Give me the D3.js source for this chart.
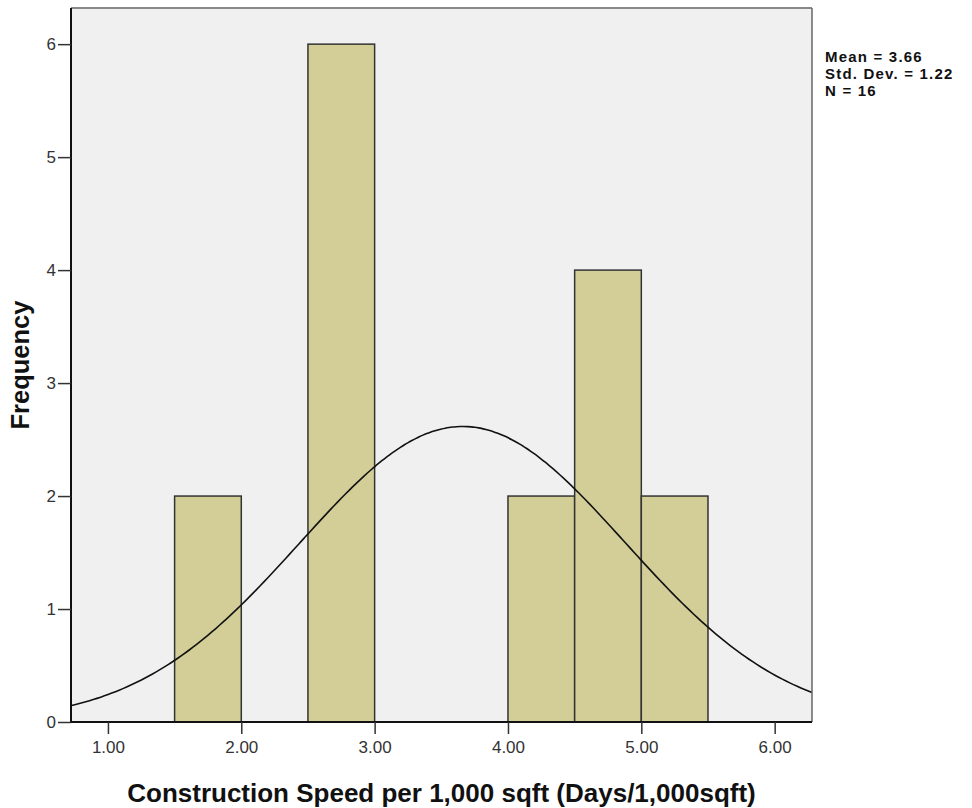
<!DOCTYPE html>
<html>
<head>
<meta charset="utf-8">
<script src="https://cdn.jsdelivr.net/npm/d3@7"></script>
<style>
  body { margin: 0; background: #fff; }
  text { font-family: "Liberation Sans", Arial, sans-serif; }
</style>
</head>
<body>
<div id="chart"></div>
<script>
// histogram bins (lower edge, upper edge) and counts
var binStarts = [1.5, 2.5, 4.0, 4.5, 5.0];
var binEnds = [2.0, 3.0, 4.5, 5.0, 5.5];
var counts = [2, 6, 2, 4, 2];
var xTicks = [1, 2, 3, 4, 5, 6];
var yTicks = [0, 1, 2, 3, 4, 5, 6];
var stats = ["Mean = 3.66", "Std. Dev. = 1.22", "N = 16"];
var mean = 3.66, sd = 1.22, n = 16, binWidth = 0.5;

var W = 972, H = 808;
var margin = {top: 8, right: 160, bottom: 86, left: 71};
var width = W - margin.left - margin.right;
var height = H - margin.top - margin.bottom;

var svg = d3.select("#chart").append("svg")
  .attr("width", W)
  .attr("height", H);

var x = d3.scaleLinear().domain([0.723, 6.28]).range([0, width]);
var y = d3.scaleLinear().domain([0, 6.32]).range([height, 0]);

var g = svg.append("g")
  .attr("transform", "translate(" + margin.left + "," + margin.top + ")");

g.append("rect")
  .attr("width", width)
  .attr("height", height)
  .attr("fill", "#f0f0f0");

var bins = binStarts.map((s, i) => ({x0: s, x1: binEnds[i], n: counts[i]}));

g.selectAll("rect.bar")
  .data(bins)
  .enter().append("rect")
  .attr("class", "bar")
  .attr("x", d => x(d.x0))
  .attr("y", d => y(d.n))
  .attr("width", d => x(d.x1) - x(d.x0))
  .attr("height", d => y(0) - y(d.n))
  .attr("fill", "#d3ce97")
  .attr("stroke", "#333")
  .attr("stroke-width", 1.5);

// fitted normal curve from mean / sd / N
var pts = d3.range(0, 201).map(i => {
  var xv = x.domain()[0] + (x.domain()[1] - x.domain()[0]) * i / 200;
  var z = (xv - mean) / sd;
  return [xv, n * binWidth * Math.exp(-0.5 * z * z) / (sd * Math.sqrt(2 * Math.PI))];
});
g.append("path")
  .datum(pts)
  .attr("fill", "none")
  .attr("stroke", "#111")
  .attr("stroke-width", 1.6)
  .attr("d", d3.line().x(d => x(d[0])).y(d => y(d[1])).curve(d3.curveBasis));

// frame: grey top/right, black left/bottom
g.append("line").attr("x1", 0).attr("x2", width).attr("y1", 0).attr("y2", 0)
  .attr("stroke", "#888").attr("stroke-width", 2);
g.append("line").attr("x1", width).attr("x2", width).attr("y1", 0).attr("y2", height)
  .attr("stroke", "#666").attr("stroke-width", 1.5);

var xAxis = g.append("g")
  .attr("transform", "translate(0," + height + ")")
  .call(d3.axisBottom(x).tickValues(xTicks).tickFormat(d3.format(".2f")).tickSize(12).tickPadding(7));
var yAxis = g.append("g")
  .call(d3.axisLeft(y).tickValues(yTicks).tickFormat(d3.format("d")).tickSize(13).tickPadding(2));

[xAxis, yAxis].forEach(a => {
  a.select(".domain").attr("stroke", "#111").attr("stroke-width", 2);
  a.selectAll(".tick line").attr("stroke", "#333").attr("stroke-width", 1.5);
  a.selectAll(".tick text").attr("font-size", "17px").attr("fill", "#333")
    .attr("font-family", "Liberation Sans, Arial, sans-serif");
});
xAxis.select(".domain").attr("d", "M0,0H" + width);
yAxis.select(".domain").attr("d", "M0,0V" + height);

svg.append("text")
  .attr("x", margin.left + width / 2)
  .attr("y", 802)
  .attr("text-anchor", "middle")
  .attr("font-size", "26px")
  .attr("font-weight", "bold")
  .attr("fill", "#111")
  .text("Construction Speed per 1,000 sqft (Days/1,000sqft)");

svg.append("text")
  .attr("transform", "translate(29," + 365 + ") rotate(-90)")
  .attr("text-anchor", "middle")
  .attr("font-size", "25.5px")
  .attr("font-weight", "bold")
  .attr("fill", "#111")
  .text("Frequency");

svg.selectAll("text.stat")
  .data(stats)
  .enter().append("text")
  .attr("class", "stat")
  .attr("x", 825)
  .attr("y", (d, i) => 62 + i * 17)
  .attr("font-size", "15px")
  .attr("font-weight", "bold")
  .attr("letter-spacing", "1.2px")
  .attr("fill", "#111")
  .text(d => d);
</script>
</body>
</html>
